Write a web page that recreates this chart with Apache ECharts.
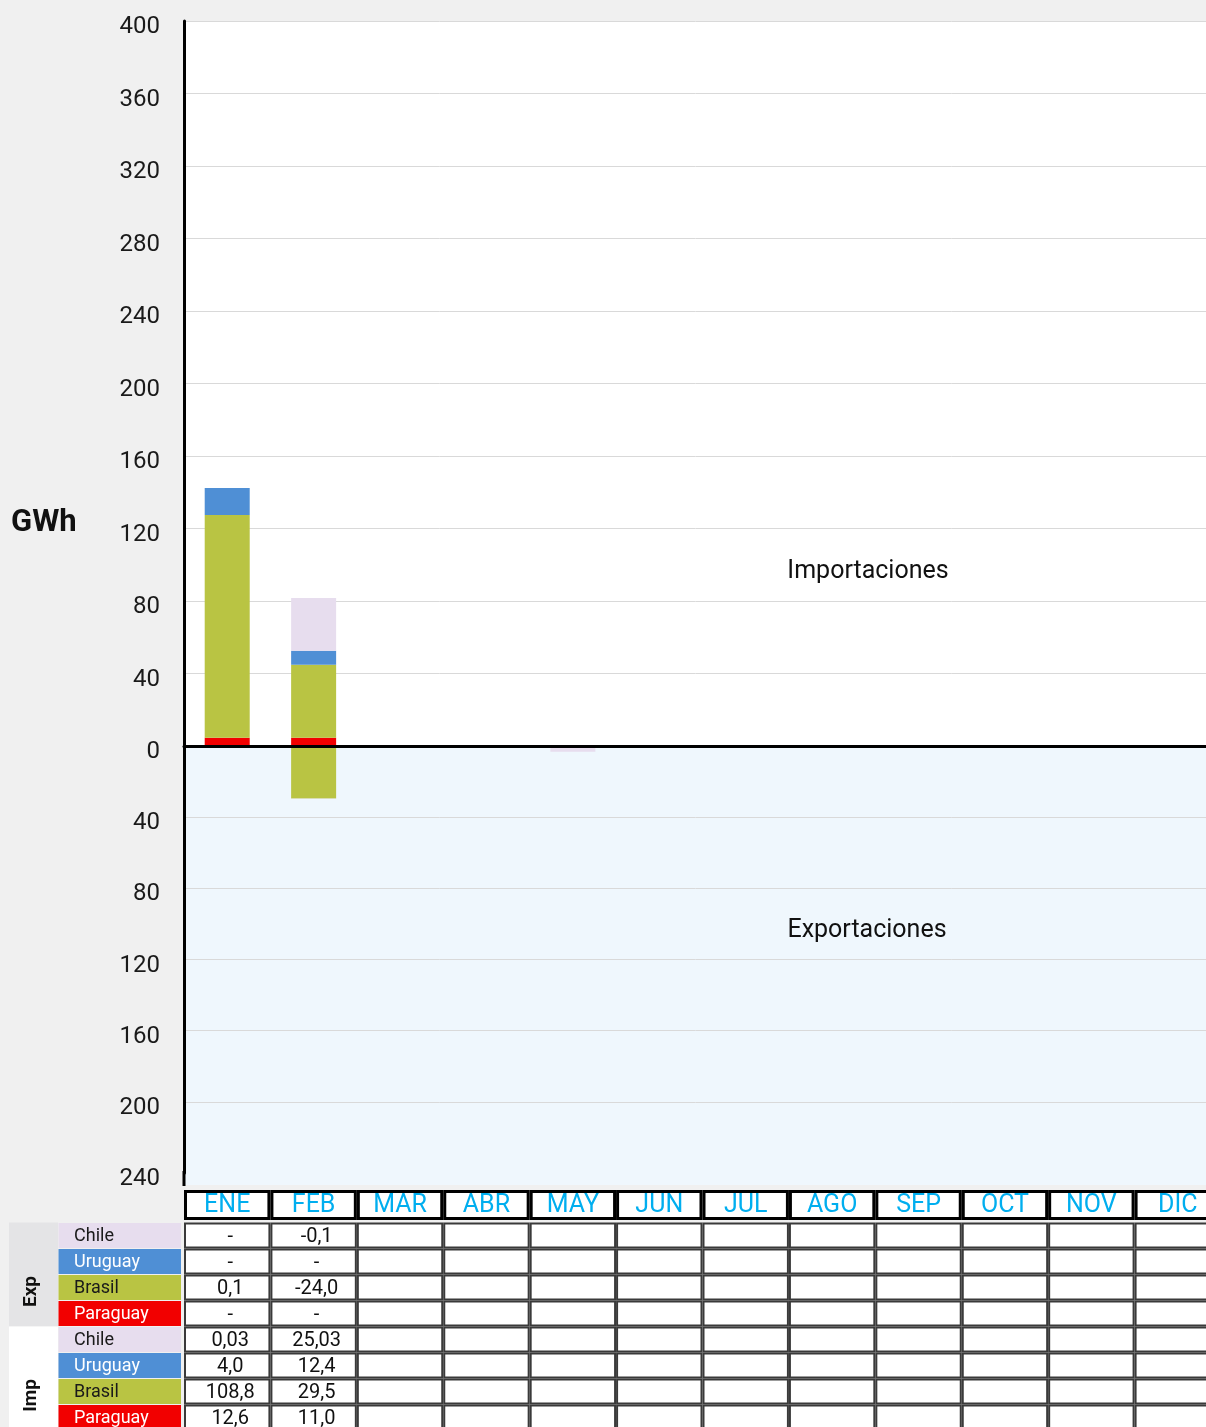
<!DOCTYPE html>
<html><head><meta charset="utf-8">
<script src="https://cdn.jsdelivr.net/npm/echarts@6/dist/echarts.min.js"></script>
<style>html,body{margin:0;padding:0;background:#f0f0f0}#c{width:1206px;height:1427px}</style>
</head><body><div id="c"></div>
<script>
const months = ['ENE','FEB','MAR','ABR','MAY','JUN','JUL','AGO','SEP','OCT','NOV','DIC'];

// Bar values (GWh)
const impParaguay = [4.5, 4.5, null, null, null, null, null, null, null, null, null, null];
const impBrasil   = [123, 40.3, null, null, null, null, null, null, null, null, null, null];
const impUruguay  = [14.9, 7.7, null, null, null, null, null, null, null, null, null, null];
const impChile    = [null, 29.2, null, null, null, null, null, null, null, null, null, null];
const expParaguay = [null, null, null, null, null, null, null, null, null, null, null, null];
const expBrasil   = [null, -29.5, null, null, null, null, null, null, null, null, null, null];
const expUruguay  = [null, null, null, null, null, null, null, null, null, null, null, null];
const expChile    = [null, -0.1, null, null, -3.2, null, null, null, null, null, null, null];

// Table text
const countries = ['Chile', 'Uruguay', 'Brasil', 'Paraguay'];
const tblExpChile    = ['-', '-0,1'];
const tblExpUruguay  = ['-', '-'];
const tblExpBrasil   = ['0,1', '-24,0'];
const tblExpParaguay = ['-', '-'];
const tblImpChile    = ['0,03', '25,03'];
const tblImpUruguay  = ['4,0', '12,4'];
const tblImpBrasil   = ['108,8', '29,5'];
const tblImpParaguay = ['12,6', '11,0'];

const FONT = 'Roboto, "Noto Sans", sans-serif';
const colors = {Chile:'#E7DDEE', Uruguay:'#4F8FD5', Brasil:'#B9C443', Paraguay:'#F20000'};
const textColors = {Chile:'#1a1a1a', Uruguay:'#ffffff', Brasil:'#1a1a1a', Paraguay:'#ffffff'};

function bar(name, data, idx, stack) {
  return {type:'bar', name, data, xAxisIndex:idx, yAxisIndex:idx, stack, barWidth:45,
    itemStyle:{color:colors[name]}, silent:true, animation:false};
}

const chart = echarts.init(document.getElementById('c'), null, {renderer:'canvas'});
const richLbl = {a:{fontSize:24, color:'#1a1a1a', fontFamily:FONT, padding:[12,0,0,0]}};
const option = {
  backgroundColor:'#f0f0f0',
  animation:false,
  grid:[
    {left:184, width:1037, top:21, height:725, show:true, backgroundColor:'#ffffff', borderWidth:0, outerBoundsMode:'none', containLabel:false},
    {left:184, width:1037, top:746, height:427, show:true, backgroundColor:'#EFF7FD', borderWidth:0, outerBoundsMode:'none', containLabel:false}
  ],
  xAxis:[
    {gridIndex:0, type:'category', data:months, axisLabel:{show:false}, axisTick:{show:false},
     axisLine:{show:true, lineStyle:{color:'#000', width:3}}, z:5},
    {gridIndex:1, type:'category', data:months, show:false}
  ],
  yAxis:[
    {gridIndex:0, type:'value', min:0, max:400, interval:40,
     axisLine:{show:true, lineStyle:{color:'#000', width:3}}, axisTick:{show:false},
     axisLabel:{margin:24, formatter: v => '{a|' + v + '}', rich:richLbl},
     splitLine:{lineStyle:{color:'#D9D9D9', width:1}}},
    {gridIndex:1, type:'value', min:-240, max:0, interval:40,
     axisLine:{show:true, lineStyle:{color:'#000', width:3}}, axisTick:{show:false},
     axisLabel:{margin:24, formatter: v => v === 0 ? '' : '{a|' + Math.abs(v) + '}', rich:richLbl},
     splitLine:{lineStyle:{color:'#D9D9D9', width:1}}}
  ],
  series:[
    bar('Paraguay', impParaguay, 0, 'imp'),
    bar('Brasil', impBrasil, 0, 'imp'),
    bar('Uruguay', impUruguay, 0, 'imp'),
    bar('Chile', impChile, 0, 'imp'),
    bar('Paraguay', expParaguay, 1, 'exp'),
    bar('Brasil', expBrasil, 1, 'exp'),
    bar('Uruguay', expUruguay, 1, 'exp'),
    bar('Chile', expChile, 1, 'exp')
  ]
};
chart.setOption(option);

// Build table and annotations from axis positions
const xs = months.map(m => chart.convertToPixel({xAxisIndex:0}, m));
const bw = xs[1] - xs[0];
const yBottom = chart.convertToPixel({yAxisIndex:1}, -240);
const g = [];
g.push({type:'rect', z:0, shape:{x:184, y:yBottom, width:1100, height:12}, style:{fill:'#EFF7FD'}});
g.push({type:'line', z:10, shape:{x1:184, y1:yBottom - 2, x2:184, y2:yBottom + 13}, style:{stroke:'#000', lineWidth:3}});

// Header row
const headTop = 1190;
months.forEach((m, i) => {
  const left = xs[i] - bw / 2;
  g.push({type:'rect', shape:{x:left + 1.5, y:headTop + 1.5, width:bw - 3, height:27}, style:{fill:'#fff', stroke:'#000', lineWidth:3}});
  g.push({type:'text', x:xs[i], y:headTop + 16, style:{text:m, fill:'#00AEEF', font:'25px ' + FONT, align:'center', verticalAlign:'middle'}});
});

const rows = [
  {name:'Chile', vals:tblExpChile}, {name:'Uruguay', vals:tblExpUruguay},
  {name:'Brasil', vals:tblExpBrasil}, {name:'Paraguay', vals:tblExpParaguay},
  {name:'Chile', vals:tblImpChile}, {name:'Uruguay', vals:tblImpUruguay},
  {name:'Brasil', vals:tblImpBrasil}, {name:'Paraguay', vals:tblImpParaguay}
];
const rowTop0 = 1222.5, rowH = 26;
g.push({type:'rect', shape:{x:9, y:rowTop0, width:49, height:rowH * 4}, style:{fill:'#E4E4E6'}});
g.push({type:'rect', shape:{x:9, y:rowTop0 + rowH * 4, width:49, height:rowH * 4 + 10}, style:{fill:'#ffffff'}});
g.push({type:'text', x:31, y:rowTop0 + rowH * 2 + 17, rotation:Math.PI / 2,
  style:{text:'Exp', fill:'#111', font:'bold 19px ' + FONT, align:'center', verticalAlign:'middle'}});
g.push({type:'text', x:31, y:rowTop0 + rowH * 6 + 17, rotation:Math.PI / 2,
  style:{text:'Imp', fill:'#111', font:'bold 19px ' + FONT, align:'center', verticalAlign:'middle'}});

rows.forEach((r, ri) => {
  const top = rowTop0 + ri * rowH;
  g.push({type:'rect', shape:{x:58.5, y:top + 0.5, width:122.5, height:rowH - 1}, style:{fill:colors[r.name]}});
  g.push({type:'text', x:74, y:top + 13.5, style:{text:r.name, fill:textColors[r.name], font:'18px ' + FONT, align:'left', verticalAlign:'middle'}});
  months.forEach((m, i) => {
    const left = xs[i] - bw / 2;
    g.push({type:'rect', shape:{x:left + 1, y:top + 1, width:bw - 2, height:rowH - 2}, style:{fill:'#fff', stroke:'#3a3a3a', lineWidth:2}});
    const v = r.vals[i];
    if (v) g.push({type:'text', x:xs[i] + 3, y:top + 14, style:{text:v, fill:'#111', font:'20px ' + FONT, align:'center', verticalAlign:'middle'}});
  });
});

// Annotations
g.push({type:'text', x:11, y:523, style:{text:'GWh', fill:'#111', font:'bold 31px ' + FONT, align:'left', verticalAlign:'middle'}});
g.push({type:'text', x:868, y:572, style:{text:'Importaciones', fill:'#111', font:'25px ' + FONT, align:'center', verticalAlign:'middle'}});
g.push({type:'text', x:867, y:931, style:{text:'Exportaciones', fill:'#111', font:'25px ' + FONT, align:'center', verticalAlign:'middle'}});

chart.setOption({graphic:g});
</script>
</body></html>
